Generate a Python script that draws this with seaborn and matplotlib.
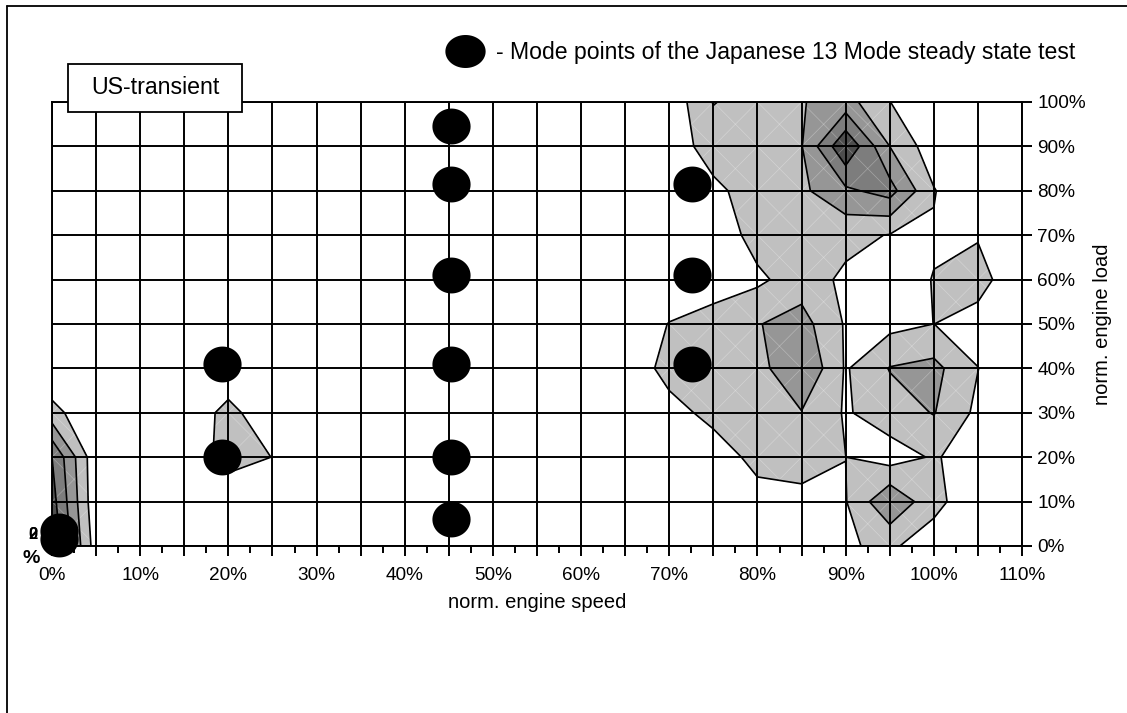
import numpy as np
import pandas as pd
import matplotlib
matplotlib.use("Agg")
import matplotlib.pyplot as plt
import seaborn as sns
from matplotlib.path import Path
from matplotlib.patches import Rectangle
from matplotlib.lines import Line2D
from matplotlib.collections import LineCollection
from matplotlib.ticker import MultipleLocator, FuncFormatter

# operating map grid: norm. engine speed (%) and norm. engine load (%)
speed_grid = [0, 5, 10, 15, 20, 25, 30, 35, 40, 45, 50, 55,
              60, 65, 70, 75, 80, 85, 90, 95, 100, 105, 110]
load_grid = [0, 10, 20, 30, 40, 50, 60, 70, 80, 90, 100]

# time share class of the US-transient cycle per grid node, one row per load
#           0    5   10 15 20    25   30 35 40 45 50 55 60 65  70    75    80    85    90     95    100    105   110
share = [
    [4.8, 0.5,  0, 0, 0,    0,    0, 0, 0, 0, 0, 0, 0, 0, 0,    0,    0,    0,    0.92,  1.15, 0.5,   0,    0],  # 0%
    [4.4, 0.25, 0, 0, 0,    0,    0, 0, 0, 0, 0, 0, 0, 0, 0,    0,    0.5,  0.6,  0.95,  2.9,  1.3,   0.3,  0],  # 10%
    [4.0, 0.25, 0, 0, 1.54, 0.98, 0, 0, 0, 0, 0, 0, 0, 0, 0,    0.3,  1.4,  1.6,  1.005, 0.55, 1.1,   0.5,  0],  # 20%
    [1.4, 0,    0, 0, 1.43, 0,    0, 0, 0, 0, 0, 0, 0, 0, 0.5,  1.4,  1.5,  1.95, 0.9,   1.5,  2.05,  0.77, 0],  # 30%
    [0,   0,    0, 0, 0,    0,    0, 0, 0, 0, 0, 0, 0, 0, 1.5,  1.5,  1.6,  3.02, 0.9,   2.05, 2.3,   1.02, 0],  # 40%
    [0,   0,    0, 0, 0,    0,    0, 0, 0, 0, 0, 0, 0, 0, 1.05, 1.5,  1.95, 2.4,  0.9,   0.7,  1.005, 0.5,  0],  # 50%
    [0,   0,    0, 0, 0,    0,    0, 0, 0, 0, 0, 0, 0, 0, 0,    0.4,  0.8,  1.5,  0.8,   0.6,  1.03,  1.5,  0],  # 60%
    [0,   0,    0, 0, 0,    0,    0, 0, 0, 0, 0, 0, 0, 0, 0,    0.3,  1.4,  1.6,  1.3,   0.95, 0.9,   0.9,  0],  # 70%
    [0,   0,    0, 0, 0,    0,    0, 0, 0, 0, 0, 0, 0, 0, 0,    0.8,  1.4,  1.8,  2.8,   3.4,  1.06,  0,    0],  # 80%
    [0,   0,    0, 0, 0,    0,    0, 0, 0, 0, 0, 0, 0, 0, 0.5,  1.4,  1.6,  1.95, 4.9,   2.0,  0.4,   0,    0],  # 90%
    [0,   0,    0, 0, 0,    0,    0, 0, 0, 0, 0, 0, 0, 0, 0.3,  2.05, 1.5,  1.95, 2.4,   1.02, 0,     0,    0],  # 100%
]
share_levels = [1, 2, 3, 4, 6]
share_colors = ["#c0c0c0", "#969696", "#7d7d7d", "#4d4d4d"]

# Japanese 13 mode steady state test points
mode_speed = [45.3, 45.3, 45.3, 45.3, 45.3, 45.3, 19.3, 19.3, 72.6, 72.6, 72.6, 0.8, 0.8]
mode_load = [94.6, 81.5, 61.0, 41.1, 20.1, 6.0, 41.1, 20.1, 81.5, 61.0, 41.1, 3.4, 1.6]
modes = pd.DataFrame({"speed": mode_speed, "load": mode_load})

sns.set_style("white")
plt.rcParams["font.family"] = ["Liberation Sans", "DejaVu Sans"]
plt.rcParams["text.color"] = "black"
plt.rcParams["axes.labelcolor"] = "black"

W, H = 1127, 713
fig = plt.figure(figsize=(W / 100, H / 100), dpi=100)
ax = fig.add_axes([52 / W, 167 / H, 970 / W, 444 / H])

X, Y = np.meshgrid(speed_grid, load_grid)
Z = np.array(share)
ax.contourf(X, Y, Z, levels=share_levels, colors=share_colors, zorder=1)

# faint cell diagonals of the surface rendering, only visible on the shaded bands
diag = []
for i in range(len(speed_grid) - 1):
    for j in range(len(load_grid) - 1):
        x0, x1 = speed_grid[i], speed_grid[i + 1]
        y0, y1 = load_grid[j], load_grid[j + 1]
        diag.append([(x0, y0), (x1, y1)])
        diag.append([(x0, y1), (x1, y0)])
ax.add_collection(LineCollection(diag, colors="white", linewidths=0.5, alpha=0.3, zorder=1.5))

ax.contour(X, Y, Z, levels=share_levels[:-1], colors="black", linewidths=1.2, zorder=2)

# ellipse marker for the mode points
t = np.linspace(0, 2 * np.pi, 60)
ellipse = Path(np.column_stack([np.cos(t), 0.94 * np.sin(t)]), closed=True)
sns.scatterplot(data=modes, x="speed", y="load", marker=ellipse, s=27.5 ** 2,
                color="black", linewidth=0, ax=ax, zorder=4, clip_on=False, legend=False)

ax.set_xlim(0, 110)
ax.set_ylim(0, 100)
ax.set_axisbelow(False)
ax.xaxis.set_major_locator(MultipleLocator(5))
ax.xaxis.set_minor_locator(MultipleLocator(2.5))
ax.yaxis.set_major_locator(MultipleLocator(10))
ax.xaxis.set_major_formatter(FuncFormatter(lambda v, p: f"{v:.0f}%" if round(v) % 10 == 0 else ""))
ax.yaxis.set_major_formatter(FuncFormatter(lambda v, p: f"{v:.0f}%"))
ax.yaxis.tick_right()
ax.grid(True, which="major", color="black", linewidth=1.4)
ax.tick_params(axis="x", which="major", direction="out", length=7.5, width=1.4,
               pad=7.5, labelsize=13.7, colors="black", bottom=True)
ax.tick_params(axis="x", which="minor", direction="out", length=5, width=1.4,
               colors="black", bottom=True)
ax.tick_params(axis="y", which="major", direction="out", length=7.5, width=1.4,
               pad=3.5, labelsize=13.7, colors="black", right=True, left=False)
for sp in ax.spines.values():
    sp.set_color("black")
    sp.set_linewidth(1.4)

ax.set_xlabel("norm. engine speed", fontsize=14.5)
ax.xaxis.set_label_coords(0.5, -0.128)
ax.xaxis.label.set_va("center")
ax.yaxis.set_label_position("right")
ax.set_ylabel("norm. engine load", fontsize=14.5)
ax.yaxis.set_label_coords(1.0835, 0.5)
ax.yaxis.label.set_va("center")

# overlapping axis label remnants at the origin
for s in ["2", "0"]:
    ax.text(-2.15, 2.7, s, fontsize=12, fontweight="bold", ha="center", va="center",
            clip_on=False, zorder=3)
ax.text(-2.4, -2.8, "%", fontsize=14, fontweight="bold", ha="center", va="center",
        clip_on=False, zorder=3)

# cycle name box
ax.add_patch(Rectangle((1.81, 97.75), 19.73, 10.81, facecolor="white", edgecolor="black",
                       linewidth=1.3, clip_on=False, zorder=5))
ax.text(11.68, 103.2, "US-transient", fontsize=16.7, ha="center", va="center",
        clip_on=False, zorder=6)

# legend entry for the mode points
legend_marker = Path(np.column_stack([np.cos(t), 0.82 * np.sin(t)]), closed=True)
ax.scatter([46.8], [111.5], marker=legend_marker, s=29 ** 2, color="black", linewidth=0,
           clip_on=False, zorder=4)
ax.text(50.4, 111.2, "- Mode points of the Japanese 13 Mode steady state test", fontsize=16.6,
        ha="left", va="center", clip_on=False)

# outer chart frame (right and bottom edge lie outside the picture)
fig.add_artist(Line2D([6.5 / W, 6.5 / W], [0, 1 - 5.5 / H], color="black", linewidth=1.3))
fig.add_artist(Line2D([6.5 / W, 1], [1 - 5.5 / H, 1 - 5.5 / H], color="black", linewidth=1.3))

fig.savefig("out.png", dpi=100)
